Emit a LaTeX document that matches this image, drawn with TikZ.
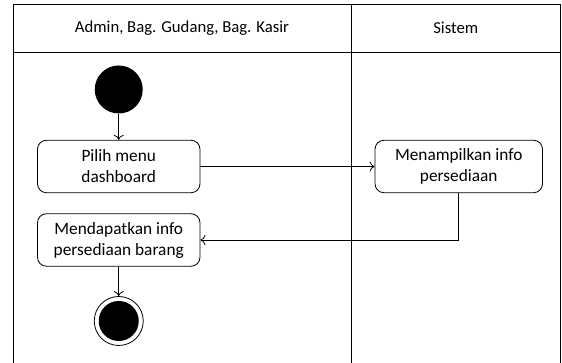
\documentclass[tikz,border=0pt]{standalone}
\usepackage{fontspec}
\setmainfont{Carlito}
\usetikzlibrary{arrows.meta}

\begin{document}
\begin{tikzpicture}[x=1pt,y=1pt,
  lanetext/.style={text=drawColor,inner sep=0pt,outer sep=0pt,font=\fontsize{16.7}{20}\selectfont},
  actbox/.style={draw=drawColor,line width=0.8pt,rounded corners=9pt,minimum width=162.5pt,minimum height=52.5pt,align=center,inner sep=0pt,font=\fontsize{17.3}{21}\selectfont},
  flow/.style={draw=drawColor,line width=0.8pt,-{To[length=5pt,width=10pt]}}]
\definecolor{fillColor}{RGB}{255,255,255}
\definecolor{drawColor}{RGB}{0,0,0}
\path[use as bounding box,fill=fillColor] (0,0) rectangle (562,363);
\begin{scope}
\path[clip] (  0.00,  0.00) rectangle (562.00,363.00);

\path[draw=drawColor,line width= 0.8pt] ( 13.00,  0.00) -- ( 13.00,359.00) -- (560.50,359.00) -- (560.50,  0.00);

\path[draw=drawColor,line width= 0.8pt] ( 13.00,311.00) -- (560.50,311.00);

\path[draw=drawColor,line width= 0.8pt] (351.00,  0.00) -- (351.00,359.00);

\node[lanetext] (laneuser) at (182.00,335.00) {Admin, Bag. Gudang, Bag. Kasir};

\node[lanetext] (lanesys) at (455.75,335.00) {Sistem};
\end{scope}
\begin{scope}
\node[circle,fill=drawColor,inner sep=0pt,minimum size=48pt] (start) at (118.75,273.50) {};

\node[actbox] (pilih) at (118.75,196.50) {Pilih menu\\dashboard};

\node[actbox,minimum width=167.5pt] (tampil) at (458.75,196.50) {Menampilkan info\\persediaan};

\node[actbox] (dapat) at (118.75,123.00) {Mendapatkan info\\persediaan barang};

\node[circle,draw=drawColor,line width=0.8pt,inner sep=0pt,minimum size=49pt] (stop) at (118.75, 42.00) {};

\node[circle,fill=drawColor,inner sep=0pt,minimum size=40pt] at (stop) {};

\path[flow] (start) -- (pilih);

\path[flow] (pilih) -- (tampil);

\path[flow] (tampil.south) |- (dapat.east);

\path[flow] (dapat) -- (stop);
\end{scope}
\end{tikzpicture}
\end{document}
